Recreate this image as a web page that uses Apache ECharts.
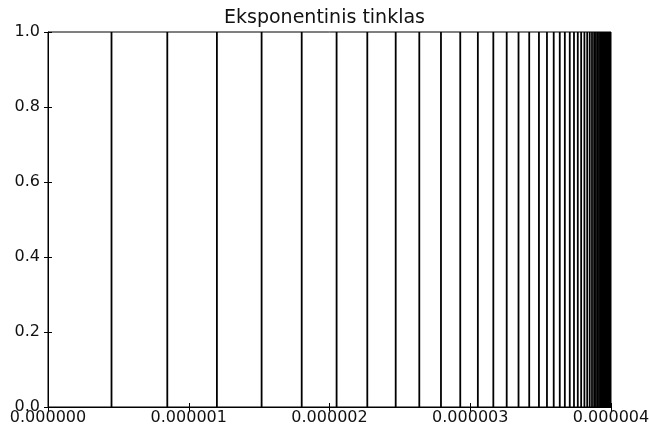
<!DOCTYPE html>
<html>
<head>
<meta charset="utf-8">
<script src="https://cdn.jsdelivr.net/npm/echarts@6/dist/echarts.min.js"></script>
<style>
  html, body { margin: 0; padding: 0; background: #fff; }
  #chart { width: 649px; height: 432px; }
</style>
</head>
<body>
<div id="chart"></div>
<script>
// Node positions of the exponential grid (metres), denser toward the right end
const gridNodes = [
  0, 0.4512e-6, 0.8476e-6, 1.200e-6, 1.5176e-6, 1.8025e-6, 2.0504e-6, 2.2686e-6,
  2.4703e-6, 2.638e-6, 2.792e-6, 2.929e-6, 3.054e-6, 3.164e-6, 3.259e-6, 3.343e-6,
  3.419e-6, 3.488e-6, 3.545e-6, 3.593e-6, 3.636e-6, 3.672e-6, 3.707e-6, 3.737e-6,
  3.764e-6, 3.788e-6, 3.811e-6, 3.831e-6, 3.849e-6, 3.865e-6, 3.880e-6, 3.893e-6,
  3.905e-6, 3.915e-6, 3.925e-6, 3.933e-6, 3.941e-6, 3.947e-6, 3.953e-6, 3.959e-6,
  3.963e-6, 3.968e-6, 3.971e-6, 3.975e-6, 3.978e-6, 3.980e-6, 3.983e-6, 3.985e-6,
  3.987e-6, 3.989e-6, 3.990e-6, 3.992e-6, 3.993e-6, 3.994e-6, 3.995e-6, 3.996e-6,
  3.997e-6, 3.998e-6, 3.999e-6, 4.0e-6
];
const xTicks = [0, 1e-6, 2e-6, 3e-6, 4e-6];
const yTicks = [0, 0.2, 0.4, 0.6, 0.8, 1.0];
const chartTitle = 'Eksponentinis tinklas';

const FONT = 'DejaVu Sans';
const chart = echarts.init(document.getElementById('chart'), null, { renderer: 'canvas' });

const commonTick = { show: true, inside: true, length: 4, lineStyle: { color: '#000', width: 1 } };

chart.setOption({
  animation: false,
  backgroundColor: '#fff',
  title: {
    text: chartTitle,
    left: 'center',
    top: 4,
    textStyle: { fontFamily: FONT, fontSize: 19, fontWeight: 'normal', color: '#111' }
  },
  grid: {
    left: 48, right: 38, top: 32, bottom: 25,
    containLabel: false,
    outerBoundsMode: 'none',
    show: true, borderColor: '#000', borderWidth: 1, backgroundColor: 'transparent'
  },
  xAxis: [
    {
      type: 'value', position: 'bottom',
      min: xTicks[0], max: xTicks[xTicks.length - 1], interval: xTicks[1] - xTicks[0],
      axisLine: { show: true, lineStyle: { color: '#000', width: 1 } },
      axisTick: commonTick,
      splitLine: { show: false },
      axisLabel: {
        fontFamily: FONT, fontSize: 16, color: '#111', margin: 3,
        formatter: v => v.toFixed(6)
      }
    },
    {
      type: 'value', position: 'top',
      min: xTicks[0], max: xTicks[xTicks.length - 1], interval: xTicks[1] - xTicks[0],
      axisLine: { show: false },
      axisTick: commonTick,
      splitLine: { show: false },
      axisLabel: { show: false }
    }
  ],
  yAxis: [
    {
      type: 'value', position: 'left',
      min: yTicks[0], max: yTicks[yTicks.length - 1], interval: 0.2,
      axisLine: { show: true, lineStyle: { color: '#000', width: 1 } },
      axisTick: commonTick,
      splitLine: { show: false },
      axisLabel: {
        fontFamily: FONT, fontSize: 16, color: '#111', margin: 8,
        formatter: v => v.toFixed(1)
      }
    },
    {
      type: 'value', position: 'right',
      min: yTicks[0], max: yTicks[yTicks.length - 1], interval: 0.2,
      axisLine: { show: false },
      axisTick: commonTick,
      splitLine: { show: false },
      axisLabel: { show: false }
    }
  ],
  series: [
    {
      type: 'custom',
      xAxisIndex: 0,
      yAxisIndex: 0,
      data: gridNodes.map(x => [x]),
      clip: true,
      renderItem: function (params, api) {
        const x = api.value(0);
        const p0 = api.coord([x, 0]);
        const p1 = api.coord([x, 1]);
        return {
          type: 'line',
          shape: { x1: p0[0], y1: p0[1], x2: p1[0], y2: p1[1] },
          style: { stroke: '#000', lineWidth: 1.8 }
        };
      }
    }
  ]
});
</script>
</body>
</html>
